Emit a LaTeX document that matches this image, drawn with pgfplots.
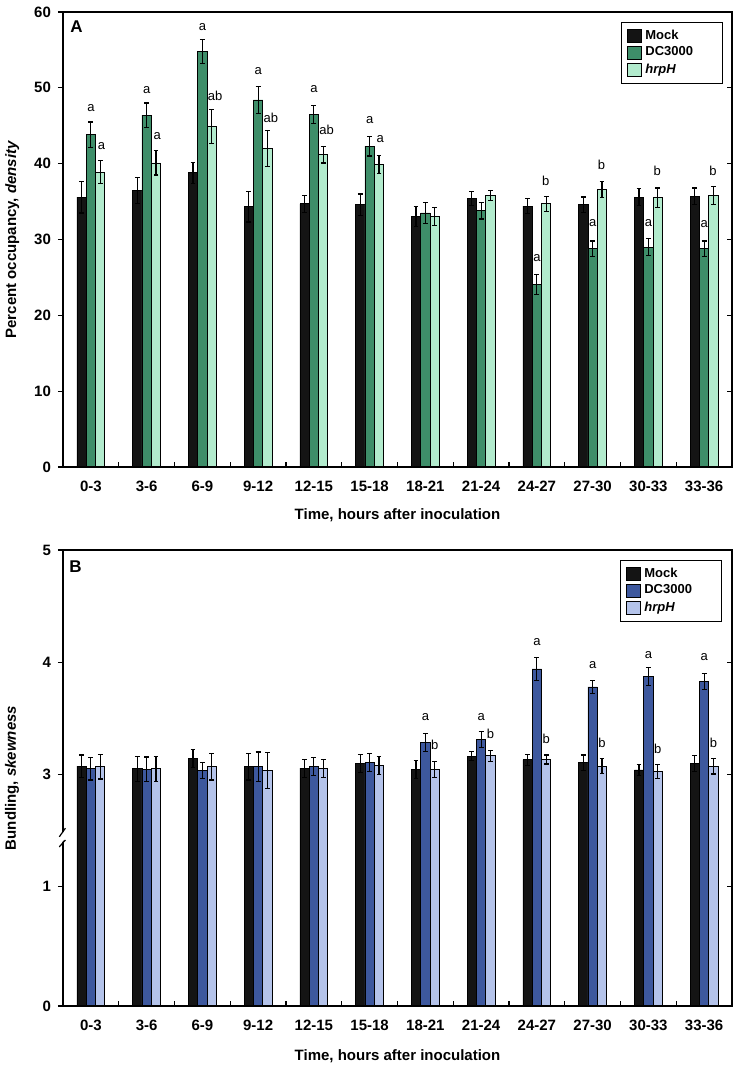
\documentclass[border=0pt]{standalone}
\usepackage{fontspec}
\setmainfont{Liberation Sans}
\usepackage{pgfplots}
\usepackage{pgfplotstable}
\pgfplotsset{compat=1.18}

\definecolor{mockc}{RGB}{20,20,20}
\definecolor{dcgreen}{RGB}{62,142,105}
\definecolor{hrpgreen}{RGB}{178,235,205}
\definecolor{dcblue}{RGB}{61,88,158}
\definecolor{hrpblue}{RGB}{180,195,234}

% panel A: percent occupancy
\pgfplotstableread{
x mock me dc de hrp he
0 35.6 2.1 43.8 1.7 38.9 1.5
1 36.5 1.7 46.4 1.6 40.1 1.6
2 38.8 1.4 54.8 1.6 44.9 2.2
3 34.3 2.0 48.4 1.8 42.0 2.4
4 34.7 1.1 46.5 1.2 41.2 1.1
5 34.6 1.4 42.3 1.3 39.9 1.2
6 33.0 1.3 33.5 1.4 33.0 1.2
7 35.4 0.9 33.8 1.1 35.8 0.7
8 34.4 1.0 24.1 1.3 34.7 1.0
9 34.6 1.0 28.8 1.0 36.6 1.1
10 35.6 1.1 29.0 1.1 35.5 1.3
11 35.7 1.1 28.8 1.0 35.8 1.2
}\occupancy

% panel B: bundling
\pgfplotstableread{
x mock me dc de hrp he
0 3.074 0.10 3.050 0.10 3.070 0.11
1 3.050 0.11 3.045 0.11 3.050 0.11
2 3.140 0.08 3.035 0.07 3.070 0.12
3 3.070 0.12 3.070 0.13 3.035 0.16
4 3.056 0.08 3.070 0.08 3.056 0.08
5 3.095 0.08 3.107 0.08 3.080 0.08
6 3.045 0.08 3.285 0.08 3.045 0.07
7 3.163 0.04 3.310 0.07 3.166 0.05
8 3.130 0.05 3.940 0.10 3.134 0.04
9 3.104 0.07 3.780 0.06 3.074 0.065
10 3.040 0.05 3.870 0.08 3.027 0.06
11 3.100 0.07 3.830 0.07 3.074 0.07
}\bundling

\pgfplotsset{
  fig/.style={
    scale only axis, width=334.5pt,
    xmin=-0.5, xmax=11.5,
    axis line style={line width=0.65pt},
    tick style={line width=0.6pt, black},
    major tick length=2.5pt,
    ticklabel style={font=\bfseries\fontsize{7.5}{9}\selectfont},
    label style={font=\bfseries\fontsize{7.5}{9}\selectfont},
    /pgf/number format/assume math mode=true,
  },
  mainax/.style={fig,
    tick align=outside, ytick pos=left,
    xtick={0,...,11},
    xticklabels={0-3,3-6,6-9,9-12,12-15,15-18,18-21,21-24,24-27,27-30,30-33,33-36},
    x tick style={draw=none},
    xticklabel style={yshift=-1pt},
    legend style={draw=black, line width=0.6pt, font=\bfseries\fontsize{6.5}{7.5}\selectfont,
      inner xsep=2.5pt, inner ysep=1.5pt, row sep=-1.6pt, cells={anchor=west},
      /tikz/column 2/.style={text width=34pt}, anchor=north east},
    legend image code/.code={\draw[##1, line width=0.4pt] (0pt,-3.2pt) rectangle (7pt,3.2pt);},
  },
  overax/.style={fig, clip=false,
    axis x line*=bottom, axis y line*=right, tick align=inside,
    xtick={0.5,1.5,...,10.5}, xticklabels={}, yticklabels={},
  },
  bar/.style={ybar, bar width=0.167, bar shift=0, draw=black, line width=0.4pt,
    error bars/y dir=both, error bars/y explicit,
    error bars/error bar style={line width=0.6pt, black},
    error bars/error mark options={rotate=90, mark size=1.2pt, line width=0.6pt, black}},
  letters/.style={draw=none, mark=none, forget plot,
    nodes near coords, point meta=explicit symbolic,
    every node near coord/.style={anchor=center, font=\fontsize{6.5}{7.5}\selectfont, inner sep=0pt}},
}

\begin{document}
\begin{tikzpicture}
\useasboundingbox (-31.5pt,-300pt) rectangle (336.5pt,233.5pt);

% ---------- A ----------
\begin{axis}[mainax, height=227.5pt, ymin=0, ymax=60, ytick={0,10,...,60},
  ylabel={Percent occupancy, \textit{density}},
  ylabel style={at={(axis description cs:-0.076,0.5)}, anchor=center},
  xlabel={Time, hours after inoculation},
  xlabel style={at={(axis description cs:0.5,-0.1055)}, anchor=center},
  legend style={at={(axis description cs:0.9865,0.978)}}]
\addplot[bar, fill=mockc] table[x expr=\thisrow{x}-0.167, y=mock, y error=me] {\occupancy};
\addlegendentry{Mock}
\addplot[bar, fill=dcgreen] table[x=x, y=dc, y error=de] {\occupancy};
\addlegendentry{DC3000}
\addplot[bar, fill=hrpgreen] table[x expr=\thisrow{x}+0.167, y=hrp, y error=he] {\occupancy};
\addlegendentry{\textit{hrpH}}
\addplot[letters] coordinates {
  (0,47.3)[a] (1,49.7)[a] (2,58.0)[a] (3,52.2)[a] (4,49.8)[a] (5,45.7)[a]
  (8,27.5)[a] (9,32.2)[a] (10,32.2)[a] (11,32.0)[a]
  (0.19,42.3)[a] (1.19,43.7)[a] (2.23,49.0)[ab] (3.23,46.0)[ab] (4.23,44.4)[ab] (5.19,43.2)[a]
  (8.16,37.8)[b] (9.16,39.9)[b] (10.16,39.1)[b] (11.16,39.1)[b]
};
\node[anchor=north west, inner sep=0pt, font=\bfseries\fontsize{8.5}{9}\selectfont]
  at (rel axis cs:0,1) [xshift=3.5pt, yshift=-4.3pt] {A};
\end{axis}
\begin{axis}[overax, height=227.5pt, ymin=0, ymax=60, ytick={10,20,...,50}]
\end{axis}

% ---------- B ----------
\pgfplotsset{breaky/.style={
  y coord trafo/.code={\pgfmathparse{##1<2 ? 1.063*##1 : ##1-0.937}},
  y coord inv trafo/.code={\pgfmathparse{##1<1.5 ? ##1/1.063 : ##1+0.937}},
  ymin=0, ymax=5}}
\begin{axis}[mainax, breaky, at={(0,-269.5pt)}, height=228pt, ytick={0,1,3,4,5},
  ylabel={Bundling, \textit{skewness}},
  ylabel style={at={(axis description cs:-0.076,0.5)}, anchor=center},
  xlabel={Time, hours after inoculation},
  xlabel style={at={(axis description cs:0.5,-0.1096)}, anchor=center},
  legend style={at={(axis description cs:0.985,0.978)}}]
\addplot[bar, fill=mockc] table[x expr=\thisrow{x}-0.167, y=mock, y error=me] {\bundling};
\addlegendentry{Mock}
\addplot[bar, fill=dcblue] table[x=x, y=dc, y error=de] {\bundling};
\addlegendentry{DC3000}
\addplot[bar, fill=hrpblue] table[x expr=\thisrow{x}+0.167, y=hrp, y error=he] {\bundling};
\addlegendentry{\textit{hrpH}}
\addplot[letters] coordinates {
  (6,3.51)[a] (7,3.51)[a] (8,4.18)[a] (9,3.975)[a] (10,4.065)[a] (11,4.05)[a]
  (6.17,3.26)[b] (7.17,3.36)[b] (8.17,3.32)[b] (9.17,3.28)[b] (10.17,3.23)[b] (11.17,3.28)[b]
};
\node[anchor=north west, inner sep=0pt, font=\bfseries\fontsize{8.5}{9}\selectfont]
  at (rel axis cs:0,1) [xshift=3pt, yshift=-5pt] {B};
\end{axis}
\begin{axis}[overax, breaky, at={(0,-269.5pt)}, height=228pt, ytick={1,3,4}]
% axis break on the left spine, drawn over the main axis
\fill[white] ([xshift=-2pt]rel axis cs:0,0.353) -- ([xshift=1.2pt]rel axis cs:0,0.367)
  -- ([xshift=1.2pt]rel axis cs:0,0.386) -- ([xshift=-2pt]rel axis cs:0,0.371) -- cycle;
\draw[line width=0.6pt] ([xshift=-1.85pt]rel axis cs:0,0.371) -- ([xshift=1.2pt]rel axis cs:0,0.390);
\draw[line width=0.6pt] ([xshift=-1.85pt]rel axis cs:0,0.349) -- ([xshift=1.2pt]rel axis cs:0,0.364);
\end{axis}
\end{tikzpicture}
\end{document}
